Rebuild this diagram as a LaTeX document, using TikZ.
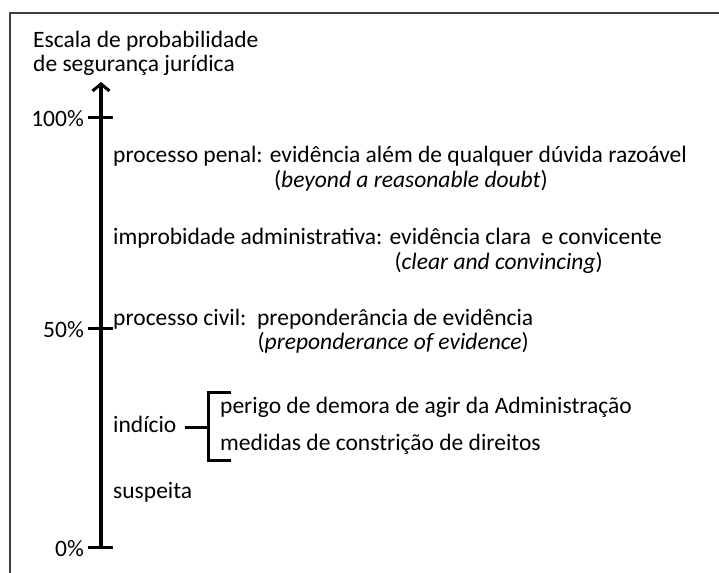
\documentclass[tikz,border=0pt]{standalone}
\usepackage{fontspec}
\setmainfont{Carlito}
\usetikzlibrary{arrows.meta}
\tikzset{
  txt/.style={anchor=base west, inner sep=0pt, font=\fontsize{23.5}{24}\selectfont},
  txtr/.style={anchor=base east, inner sep=0pt, font=\fontsize{23.5}{24}\selectfont},
  axisline/.style={line width=3.2pt, -{Straight Barb[length=7pt,width=17pt,line width=3pt]}},
  tickline/.style={line width=3pt},
  bracketline/.style={line width=3pt},
  frameline/.style={line width=1.6pt, draw=black!75}
}
\begin{document}
\begin{tikzpicture}[x=1pt,y=-1pt]
\useasboundingbox (0,0) rectangle (719,572);
% frame
\draw[frameline] (730,13) -- (10,13) -- (10,585);
% title
\node[anchor=north west, inner sep=0pt, align=left, font=\fontsize{23.5}{24}\selectfont] (title) at (33,31) {Escala de probabilidade\\de segurança jurídica};
% axis
\coordinate (abot) at (101,547);
\coordinate (atop) at (101,82);
\draw[axisline] (abot) -- (atop);
% ticks
\coordinate (t100l) at (88,118); \coordinate (t100r) at (113,118);
\coordinate (t50l) at (88,328); \coordinate (t50r) at (113,328);
\coordinate (t0l) at (88,547); \coordinate (t0r) at (113,547);
\draw[tickline] (t100l) -- (t100r);
\draw[tickline] (t50l) -- (t50r);
\draw[tickline] (t0l) -- (abot) -- (t0r);
\node[txtr] (p100) at (84,127) {100\%};
\node[txtr] (p50) at (84,337) {50\%};
\node[txtr] (p0) at (84,556) {0\%};
% levels
\node[txt] (penal) at (113,162) {processo penal: evidência além de qualquer dúvida razoável};
\node[txtr] (penal2) at (548,187) {(\textit{beyond a reasonable doubt})};
\node[txt] (impr) at (113,244) {improbidade administrativa: evidência clara\ \ e convicente};
\node[txtr] (impr2) at (603,269) {(\textit{clear and convincing})};
\node[txt] (civil) at (113,325) {processo civil:\ \ preponderância de evidência};
\node[txtr] (civil2) at (529,349) {(\textit{preponderance of evidence})};
\node[txt] (ind) at (113,432) {indício};
\node[txt] (susp) at (113,498) {suspeita};
% bracket
\coordinate (dashl) at (185,427);
\coordinate (bmid) at (208,427);
\coordinate (btop) at (208,392);
\coordinate (bbot) at (208,460);
\coordinate (btopr) at (231,392);
\coordinate (bbotr) at (231,460);
\draw[bracketline] (dashl) -- (bmid);
\draw[bracketline] (btopr) -- (btop) -- (bbot) -- (bbotr);
\node[txt] (perigo) at (220,413) {perigo de demora de agir da Administração};
\node[txt] (medidas) at (220,450) {medidas de constrição de direitos};
\end{tikzpicture}
\end{document}
